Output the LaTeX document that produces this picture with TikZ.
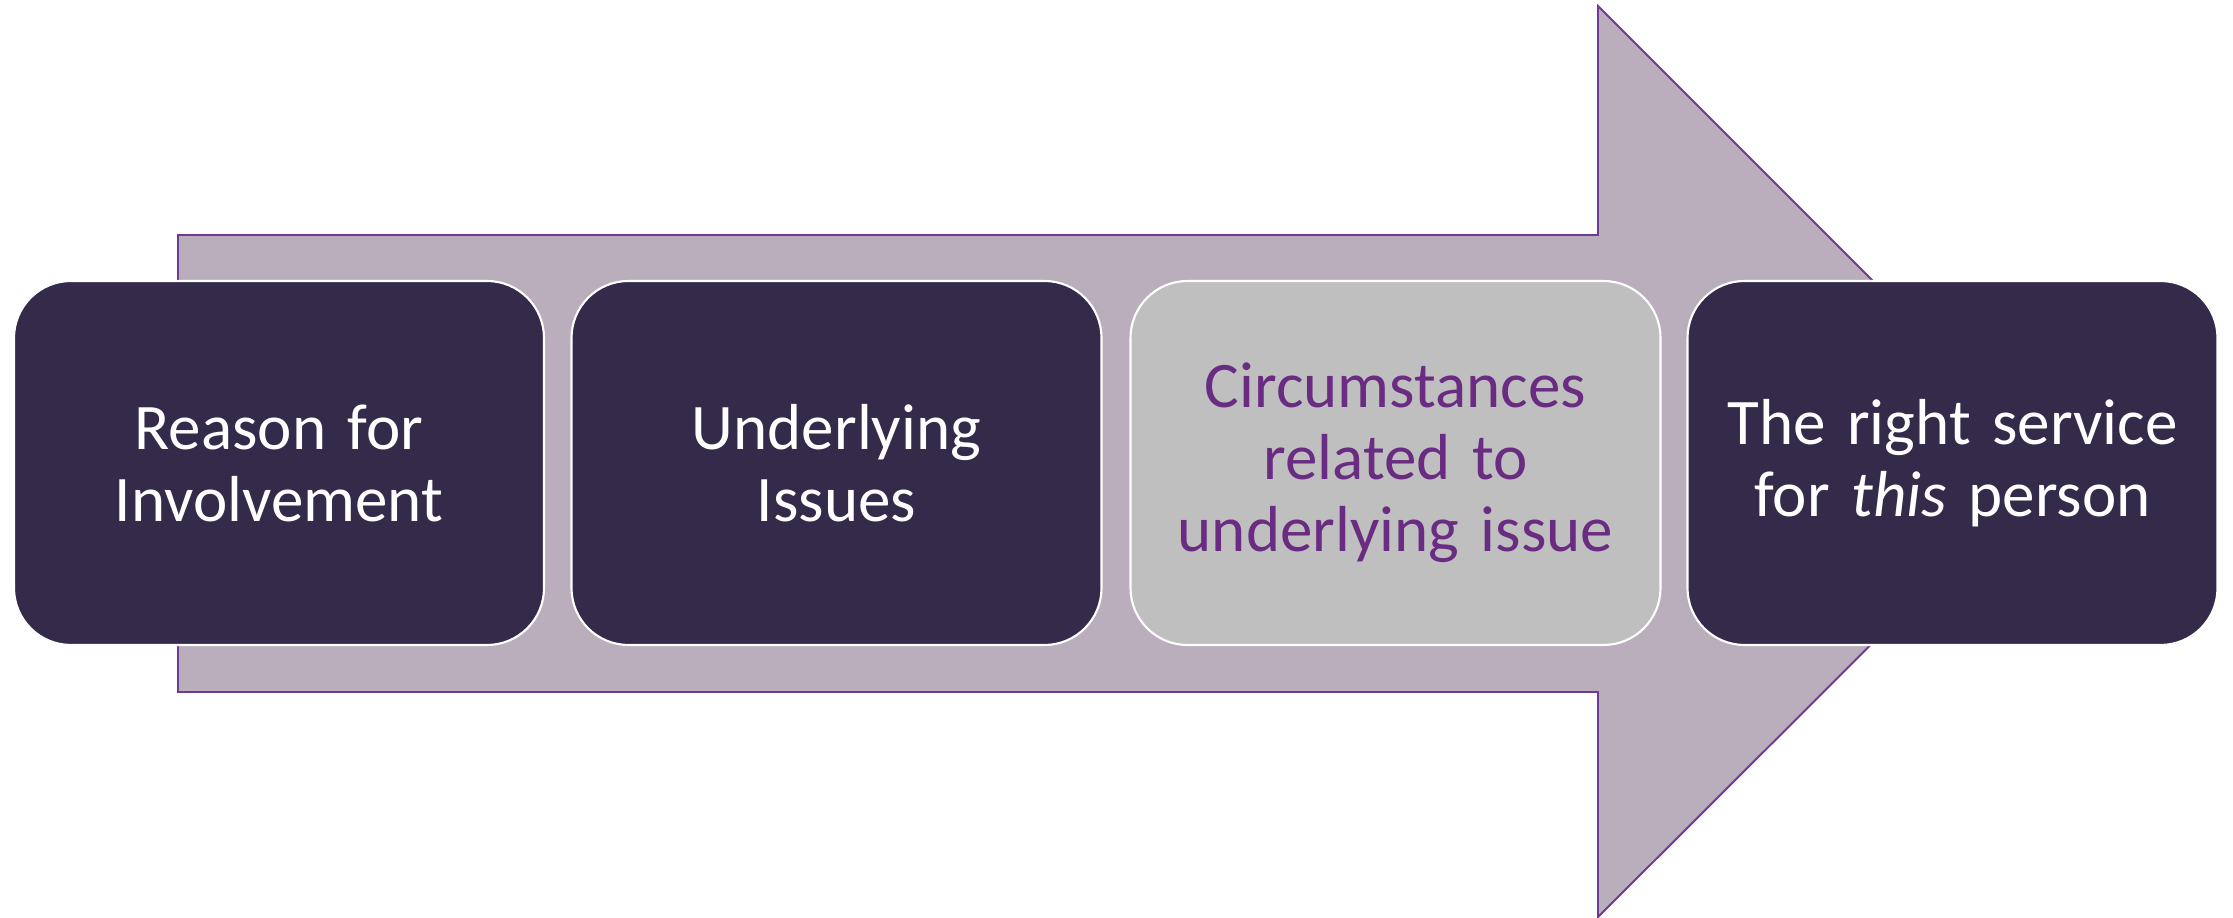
\documentclass[tikz,border=0pt]{standalone}
\usepackage{fontspec}
\setmainfont{Carlito}
\usepackage{xcolor}
\usepackage{tikz}
\usetikzlibrary{calc}
\definecolor{darkbox}{HTML}{342A4A}
\definecolor{arrowfill}{HTML}{BAAEBD}
\definecolor{arrowline}{HTML}{6E3A96}
\definecolor{greybox}{HTML}{BFBFBF}
\definecolor{purpletext}{HTML}{6A2C82}
\tikzset{
	stage/.style={draw=white,line width=0.6pt,rounded corners=0.57cm,
		minimum width=5.3cm,minimum height=3.64cm,outer sep=0pt,
		align=center,text width=5.0cm,
		font=\fontsize{18.5pt}{20.5pt}\selectfont},
	darkstage/.style={stage,fill=darkbox,text=white},
	greystage/.style={stage,fill=greybox,text=purpletext}
}

\begin{document}
\begin{tikzpicture}
	\useasboundingbox (0,0) rectangle (22.33,9.18);
	% big arrow behind the boxes
	\filldraw[color=arrowline,line width=0.55pt,fill=arrowfill,line join=miter]
		(1.78,6.83) -- (15.98,6.83) -- (15.98,9.12) -- (20.54,4.56)
		-- (15.98,0.01) -- (15.98,2.26) -- (1.78,2.26) -- cycle;
	\node[darkstage] (R) at (2.79,4.55) {Reason for\\Involvement};
	\node[darkstage] (U) at (8.365,4.55) {Underlying\\Issues};
	\node[greystage] (C) at (13.955,4.55) {Circumstances\\related to\\underlying issue};
	\node[darkstage] (S) at (19.525,4.55) {The right service\\for \textit{this} person};
\end{tikzpicture}
\end{document}
